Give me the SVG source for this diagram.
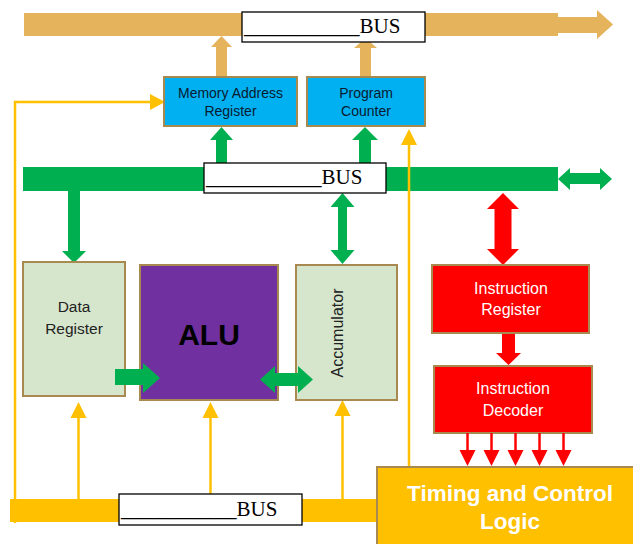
<svg xmlns="http://www.w3.org/2000/svg" width="633" height="544" viewBox="0 0 633 544">
<style>
.box{stroke:#A88A50;stroke-width:2}
.lbl{fill:#fff;stroke:#000;stroke-width:1.3}
.bt{font-family:"Liberation Serif",serif;font-size:21px;fill:#000}
.t{font-family:"Liberation Sans",Arial,sans-serif;text-anchor:middle}
.tan{fill:#E5B35C}
.grn{fill:#00B050}
.red{fill:#FF0000}
.yl{stroke:#FFC000;stroke-width:2.5;fill:none}
.yh{fill:#FFC000}
.rl{stroke:#FF0000;stroke-width:2.5}
</style>
<g id="connectors">
  <!-- top address bus -->
  <rect class="tan" x="24" y="13" width="534" height="23"/>
  <polygon class="tan" points="558,17 597,17 597,10 613,24.5 597,39 597,33 558,33"/>
  <polygon class="tan" points="216,77 216,47 211,47 221.5,36 232,47 227,47 227,77"/>
  <polygon class="tan" points="360,77 360,48 354,48 365.5,38 377,48 371,48 371,77"/>
  <!-- data bus -->
  <rect class="grn" x="23" y="167" width="535" height="24"/>
  <polygon class="grn" points="558,179 570,168 570,173 600,173 600,168 612,179 600,190 600,184 570,184 570,190"/>
  <polygon class="grn" points="216,167 216,140 210,140 221.5,127 233,140 227,140 227,167"/>
  <polygon class="grn" points="359,167 359,140 352,140 365,127 378,140 371,140 371,167"/>
  <polygon class="grn" points="68,191 80,191 80,251 86,251 74,263 62,251 68,251"/>
  <polygon class="grn" points="342.5,193 354.5,207 347,207 347,250 354.5,250 342.5,264 330.5,250 338,250 338,207 330.5,207"/>
  <polygon class="red" points="503,193 519,209 511.5,209 511.5,249 519,249 503,265 487,249 494.5,249 494.5,209 487,209"/>
  <polygon class="red" points="502,333 515,333 515,353 521,353 508.5,365 496,353 502,353"/>
  <!-- control bus -->
  <rect class="yh" x="10" y="499" width="370" height="23"/>
  <polyline class="yl" points="15,523 15,102 152,102"/>
  <polygon class="yh" points="150,94 165,102 150,110"/>
  <line class="yl" x1="78.5" y1="499" x2="78.5" y2="415"/>
  <polygon class="yh" points="70.5,418 78.5,402 86.5,418"/>
  <line class="yl" x1="210.5" y1="499" x2="210.5" y2="415"/>
  <polygon class="yh" points="202.5,418 210.5,402 218.5,418"/>
  <line class="yl" x1="342.5" y1="499" x2="342.5" y2="413"/>
  <polygon class="yh" points="334.5,416 342.5,400 350.5,416"/>
  <line class="yl" x1="409" y1="467" x2="409" y2="142"/>
  <polygon class="yh" points="401,145 409,129 417,145"/>
</g>
<g id="mar">
  <rect class="box" x="164" y="77" width="133" height="49" fill="#00B0F0"/>
  <text class="t" x="230.5" y="98" font-size="14" fill="#0A1A30">Memory Address</text>
  <text class="t" x="230.5" y="116" font-size="14" fill="#0A1A30">Register</text>
</g>
<g id="pc">
  <rect class="box" x="307" y="77" width="118" height="49" fill="#00B0F0"/>
  <text class="t" x="366" y="98" font-size="14" fill="#0A1A30">Program</text>
  <text class="t" x="366" y="116" font-size="14" fill="#0A1A30">Counter</text>
</g>
<g id="data-register">
  <rect class="box" x="23" y="262" width="102" height="134" fill="#D6E6CC"/>
  <text class="t" x="74" y="312" font-size="15.5" fill="#222">Data</text>
  <text class="t" x="74" y="334" font-size="15.5" fill="#222">Register</text>
</g>
<g id="alu">
  <rect class="box" x="140" y="265" width="138" height="135" fill="#7030A0"/>
  <text class="t" x="209" y="345" font-size="30" font-weight="bold" fill="#000">ALU</text>
</g>
<g id="accumulator">
  <rect class="box" x="296" y="265" width="101" height="135" fill="#D6E6CC"/>
  <text class="t" transform="translate(337,333) rotate(-90)" x="0" y="5.5" font-size="16" fill="#222">Accumulator</text>
</g>
<g id="instruction-register">
  <rect class="box" x="432" y="265" width="157" height="68" fill="#FF0000"/>
  <text class="t" x="511" y="294" font-size="16" fill="#fff">Instruction</text>
  <text class="t" x="511" y="315" font-size="16" fill="#fff">Register</text>
</g>
<g id="instruction-decoder">
  <rect class="box" x="434" y="366" width="158" height="67" fill="#FF0000"/>
  <text class="t" x="513" y="394" font-size="16" fill="#fff">Instruction</text>
  <text class="t" x="513" y="416" font-size="16" fill="#fff">Decoder</text>
</g>
<g id="timing-control">
  <rect class="box" x="377" y="467" width="260" height="82" fill="#FFC000"/>
  <text class="t" x="510" y="501" font-size="22.5" font-weight="bold" fill="#fff">Timing and Control</text>
  <text class="t" x="510" y="529" font-size="22.5" font-weight="bold" fill="#fff">Logic</text>
</g>
<g id="connectors-front">
  <polygon class="grn" points="115,369 143,369 143,363 160,378 143,393 143,385 115,385"/>
  <polygon class="grn" points="260,379.5 275,366 275,373 298,373 298,366 313,379.5 298,393 298,386 275,386 275,393"/>
  <line class="rl" x1="467.5" y1="433" x2="467.5" y2="452"/>
  <polygon class="red" points="459.5,450 475.5,450 467.5,466"/>
  <line class="rl" x1="491.5" y1="433" x2="491.5" y2="452"/>
  <polygon class="red" points="483.5,450 499.5,450 491.5,466"/>
  <line class="rl" x1="515.5" y1="433" x2="515.5" y2="452"/>
  <polygon class="red" points="507.5,450 523.5,450 515.5,466"/>
  <line class="rl" x1="539.5" y1="433" x2="539.5" y2="452"/>
  <polygon class="red" points="531.5,450 547.5,450 539.5,466"/>
  <line class="rl" x1="563.5" y1="433" x2="563.5" y2="452"/>
  <polygon class="red" points="555.5,450 571.5,450 563.5,466"/>
</g>
<g id="address-bus-label">
  <rect class="lbl" x="242" y="12" width="183" height="30"/>
  <text class="bt" x="244" y="33">___________BUS</text>
</g>
<g id="data-bus-label">
  <rect class="lbl" x="204" y="163" width="182" height="30"/>
  <text class="bt" x="206" y="184">___________BUS</text>
</g>
<g id="control-bus-label">
  <rect class="lbl" x="119" y="494" width="183" height="31"/>
  <text class="bt" x="121" y="516">___________BUS</text>
</g>
</svg>
